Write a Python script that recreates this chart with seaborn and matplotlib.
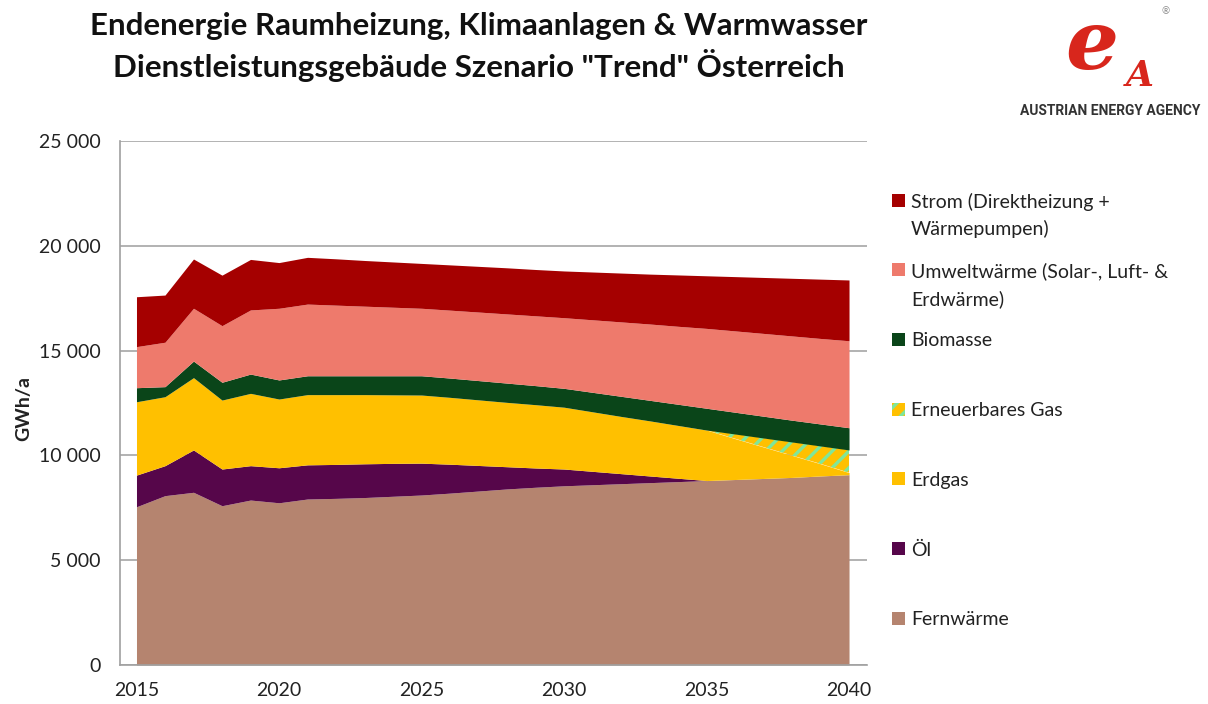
import numpy as np
import seaborn as sns
import matplotlib.pyplot as plt
from matplotlib.patches import Rectangle
from matplotlib.ticker import FuncFormatter, MultipleLocator

# Years on the category axis
years = list(range(2015, 2041))

# Final energy per carrier in GWh/a
fernwaerme = [7550, 8080, 8240, 7600, 7870, 7740, 7920, 7950, 7990, 8050,
              8110, 8200, 8300, 8400, 8480, 8550, 8600, 8650, 8700, 8750,
              8800, 8850, 8900, 8950, 9020, 9080]
oel = [1510, 1430, 2020, 1750, 1640, 1670, 1630, 1620, 1610, 1570,
       1520, 1380, 1220, 1060, 920, 800, 640, 480, 320, 160,
       0, 0, 0, 0, 0, 0]
erdgas = [3500, 3290, 3450, 3290, 3450, 3280, 3350, 3330, 3300, 3270,
          3250, 3190, 3130, 3070, 3020, 2950, 2840, 2730, 2630, 2520,
          2410, 1950, 1500, 1050, 580, 100]
erneuerbares_gas = [0, 0, 0, 0, 0, 0, 0, 0, 0, 0,
                    0, 0, 0, 0, 0, 0, 0, 0, 0, 0,
                    0, 220, 430, 640, 850, 1080]
biomasse = [670, 480, 790, 850, 920, 910, 900, 900, 900, 910,
            920, 920, 920, 920, 910, 900, 930, 960, 980, 1010,
            1040, 1040, 1040, 1040, 1050, 1060]
umweltwaerme = [1960, 2120, 2520, 2700, 3060, 3420, 3420, 3370, 3320, 3270,
                3220, 3240, 3270, 3300, 3330, 3370, 3460, 3550, 3640, 3720,
                3810, 3880, 3950, 4020, 4080, 4150]
strom = [2380, 2250, 2350, 2410, 2410, 2180, 2230, 2210, 2180, 2160,
         2140, 2160, 2180, 2200, 2210, 2230, 2280, 2330, 2380, 2450,
         2510, 2590, 2670, 2750, 2830, 2900]

# bottom to top
series = [fernwaerme, oel, erdgas, erneuerbares_gas, biomasse, umweltwaerme, strom]
colors = ['#B5846F', '#56064A', '#FFC000', '#FFC000', '#0A4519', '#EE7A6C', '#A50000']

# legend, top to bottom
legend_labels = ['Strom (Direktheizung +\nWärmepumpen)',
                 'Umweltwärme (Solar-, Luft- &\nErdwärme)',
                 'Biomasse', 'Erneuerbares Gas', 'Erdgas', 'Öl', 'Fernwärme']
legend_colors = ['#A50000', '#EE7A6C', '#0A4519', '#FFC000', '#FFC000', '#56064A', '#B5846F']
hatch_green = '#7FE69A'

sns.set_style('white')
plt.rcParams['font.family'] = ['Lato', 'DejaVu Sans']
plt.rcParams['hatch.linewidth'] = 2.4

fig = plt.figure(figsize=(12.08, 7.04), dpi=100)
ax = fig.add_axes([0.0993, 0.0554, 0.6184, 0.7443])

polys = ax.stackplot(years, *series, colors=colors, linewidth=0)
polys[3].set_hatch('//')
polys[3].set_edgecolor(hatch_green)
polys[3].set_linewidth(0)

ax.set_xlim(2014.42, 2040.63)
ax.set_ylim(0, 25000)
ax.yaxis.set_major_locator(MultipleLocator(5000))
ax.yaxis.set_major_formatter(FuncFormatter(lambda v, p: f'{int(v):,}'.replace(',', ' ')))
ax.set_xticks([2015, 2020, 2025, 2030, 2035, 2040])
ax.set_xticks(np.arange(2014.5, 2041, 1), minor=True)
ax.tick_params(axis='x', which='major', length=0, pad=12, labelsize=14, colors='#222222')
ax.tick_params(axis='x', which='minor', length=6, width=1, color='#A0A0A0', direction='out')
ax.tick_params(axis='y', which='major', length=6, width=1, color='#A0A0A0', labelsize=14,
               labelcolor='#222222', pad=8)
ax.grid(axis='y', color='#A6A6A6', linewidth=1.2)
ax.set_axisbelow(True)
sns.despine(ax=ax, top=True, right=True)
for side in ['left', 'bottom']:
    ax.spines[side].set_color('#A0A0A0')
    ax.spines[side].set_linewidth(1.2)
ax.set_ylabel('GWh/a', fontsize=14, fontweight='bold', color='#222222')
ax.yaxis.set_label_coords(-0.118, 0.49)

# Title
fig.text(0.396, 1 - 47 / 704,
         'Endenergie Raumheizung, Klimaanlagen & Warmwasser\n'
         'Dienstleistungsgebäude Szenario "Trend" Österreich',
         ha='center', va='center', fontsize=22.5, fontweight='bold',
         color='#111111', linespacing=1.3)

# Legend drawn by hand so the markers sit on the first text line
W, H = 1208, 704
for i, (lab, col) in enumerate(zip(legend_labels, legend_colors)):
    yc = 200 + i * 69.7
    rect = Rectangle((892 / W, (H - yc - 6.5) / H), 13 / W, 13 / H,
                     transform=fig.transFigure, facecolor=col, linewidth=0)
    if lab == 'Erneuerbares Gas':
        rect.set_hatch('//')
        rect.set_edgecolor(hatch_green)
    fig.patches.append(rect)
    fig.text(911 / W, (H - yc + 7) / H, lab, ha='left', va='top',
             fontsize=14, color='#222222', linespacing=1.62)

# Logo
fig.text(1092 / W, 1 - 46 / H, 'e', fontsize=60, fontweight='bold', style='italic',
         color='#D8261C', ha='center', va='center', family=['DejaVu Serif'])
fig.text(1140 / W, 1 - 76 / H, 'A', fontsize=26, fontweight='bold', style='italic',
         color='#D8261C', ha='center', va='center', family=['DejaVu Serif'])
fig.text(1166 / W, 1 - 12 / H, '®', fontsize=7, color='#888888', ha='center', va='center')
fig.text(1110 / W, 1 - 111 / H, 'AUSTRIAN ENERGY AGENCY', fontsize=10, fontweight='bold',
         color='#333333', ha='center', va='center', family=['Roboto', 'DejaVu Sans'])

fig.savefig('out.png', dpi=100)
